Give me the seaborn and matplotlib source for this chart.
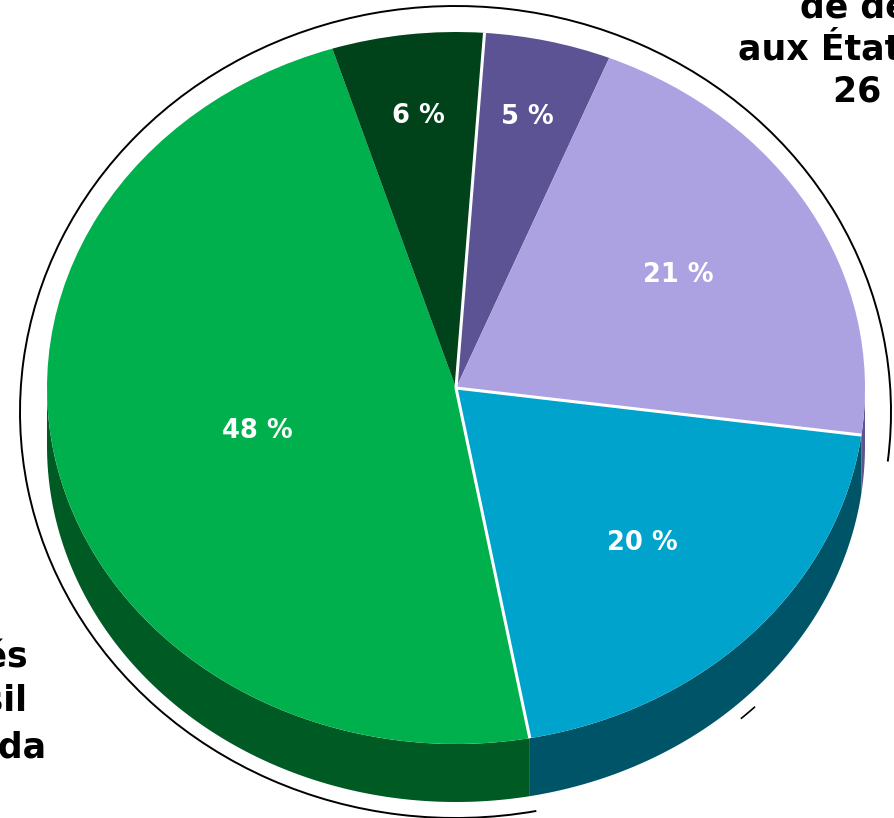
import numpy as np
import matplotlib
matplotlib.use("Agg")
import matplotlib.pyplot as plt
from matplotlib.patches import Arc
import seaborn as sns

# slices, clockwise from the top
shares = [5, 21, 20, 48, 6]
labels = ["5 %", "21 %", "20 %", "48 %", "6 %"]
top_colors = ["#5B5394", "#ACA2E2", "#00A3CB", "#00B04C", "#00421A"]
side_colors = ["#4A4379", "#5E5490", "#005468", "#005A24", "#00331A"]
# groups separated by white lines (purples / blue / greens)
groups = [26, 20, 54]

sns.set_theme(style="white")
plt.rcParams["font.family"] = ["DejaVu Sans"]

W, H = 895, 818
fig = plt.figure(figsize=(W / 100, H / 100), dpi=100)
ax = fig.add_axes([0, 0, 1, 1])

# pixel geometry of the tilted pie
cx, cy, rx, ry = 456, 388, 409, 356
depth = 58 / ry
start = 86

wedges, _ = ax.pie(shares, colors=top_colors, startangle=start, counterclock=False,
                   radius=1, center=(0, 0), wedgeprops=dict(linewidth=0))
for w in wedges:
    w.set_zorder(3)

ax.set_aspect("auto")
ax.set_xlim(-cx / rx, (W - cx) / rx)
ax.set_ylim(-(H - cy) / ry, cy / ry)
ax.axis("off")

# side wall of the front half
for w, col in zip(wedges, side_colors):
    for k in (-360, 0, 360):
        lo = max(w.theta1, -180 + k)
        hi = min(w.theta2, 0 + k)
        if hi <= lo:
            continue
        t = np.radians(np.linspace(lo, hi, 120))
        xs = np.concatenate([np.cos(t), np.cos(t[::-1])])
        ys = np.concatenate([np.sin(t), np.sin(t[::-1]) - depth])
        ax.fill(xs, ys, color=col, lw=0, zorder=2)

# white separators between groups
b = start - 3.6 * np.concatenate([[0], np.cumsum(groups)[:-1]])
for a in np.radians(b):
    ax.plot([0, np.cos(a)], [0, np.sin(a)], color="white", lw=2.2, zorder=4,
            solid_capstyle="butt")

# percentage labels
label_r = [0.78, 0.63, 0.63, 0.50, 0.77]
for w, lab, r in zip(wedges, labels, label_r):
    m = np.radians((w.theta1 + w.theta2) / 2)
    ax.text(r * np.cos(m), r * np.sin(m), lab, color="white", fontsize=18.5,
            fontweight="bold", ha="center", va="center", zorder=5)

# thin outline ellipse around the pie
ocx, ocy = (455.5 - cx) / rx, (cy - 412) / ry
ow, oh = 2 * 435.5 / rx, 2 * 406 / ry
ax.add_patch(Arc((ocx, ocy), ow, oh, theta1=-7.5, theta2=280, color="black", lw=1.4, zorder=1))
ax.add_patch(Arc((ocx, ocy), ow, oh, theta1=309, theta2=311.5, color="black", lw=1.2, zorder=1))


def px(x, y):
    return x / W, 1 - y / H


big = dict(fontsize=25, fontweight="bold", color="black", va="baseline")
fig.text(*px(800, 17), "de destination", ha="left", **big)
fig.text(*px(738, 60), "aux États-Unis", ha="left", **big)
fig.text(*px(833, 102), "26 %", ha="left", **big)

fig.text(*px(28, 667), "Biens achetés", ha="right", **big)
fig.text(*px(27, 712), "au Brésil", ha="right", **big)
fig.text(*px(46, 757), "et au Canada", ha="right", **big)

fig.savefig("out.png", dpi=100)
